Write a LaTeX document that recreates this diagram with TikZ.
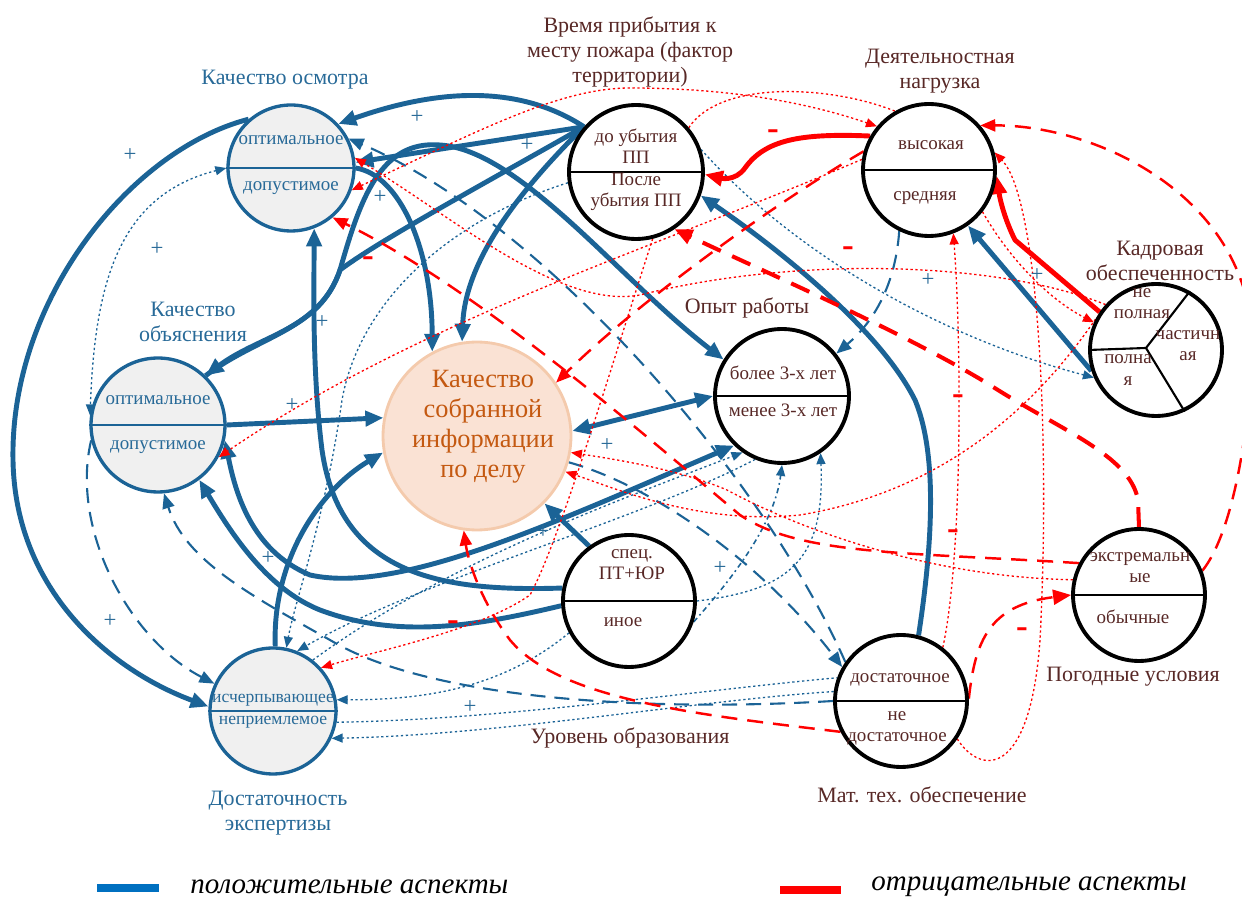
\documentclass[tikz,border=0pt]{standalone}
\usepackage{fontspec}
\setmainfont{Liberation Serif}
\usetikzlibrary{arrows.meta,backgrounds}
\definecolor{bl}{RGB}{27,99,150}
\definecolor{tbl}{RGB}{40,106,152}
\definecolor{br}{RGB}{88,40,38}
\definecolor{rd}{RGB}{255,0,0}
\definecolor{gf}{RGB}{240,240,240}
\definecolor{pf}{RGB}{250,226,212}
\definecolor{pb}{RGB}{244,202,172}
\definecolor{ptx}{RGB}{196,89,17}
\definecolor{lgb}{RGB}{0,112,192}
\tikzset{
  bigtri/.tip={Triangle[length=0.36cm,width=0.30cm]},
  midtri/.tip={Triangle[length=0.30cm,width=0.24cm]},
  smtri/.tip={Triangle[length=0.22cm,width=0.18cm]},
  bc/.style={circle, draw=bl, line width=1.9pt, fill=gf, inner sep=0pt},
  kc/.style={circle, draw=black, line width=2.2pt, fill=white, inner sep=0pt},
  cc/.style={circle, draw=pb, line width=1.6pt, fill=pf, inner sep=0pt},
  bdiv/.style={draw=bl, line width=0.9pt},
  kdiv/.style={draw=black, line width=0.9pt},
  bth/.style={draw=bl, line width=2.8pt},
  rth/.style={draw=rd, line width=2.8pt},
  bdash/.style={draw=bl, line width=1.2pt, dash pattern=on 0.3cm off 0.18cm},
  bdot/.style={draw=bl, line width=0.75pt, dash pattern=on 1.3pt off 1.5pt},
  bdashdot/.style={draw=bl, line width=0.9pt, dash pattern=on 3pt off 2pt on 1pt off 2pt},
  rdash/.style={draw=rd, line width=1.4pt, dash pattern=on 0.32cm off 0.2cm},
  rdashk/.style={draw=rd, line width=2.3pt, dash pattern=on 0.4cm off 0.25cm},
  rdot/.style={draw=rd, line width=0.75pt, dash pattern=on 1.3pt off 1.5pt},
  nt/.style={text=br, font=\fontsize{10.8}{12}\selectfont, inner sep=0pt},
  nbt/.style={text=tbl, font=\fontsize{10.8}{12}\selectfont, inner sep=0pt},
  ttl/.style={text=br, font=\fontsize{12.5}{14}\selectfont, inner sep=0pt},
  tbt/.style={text=tbl, font=\fontsize{12.5}{14}\selectfont, inner sep=0pt},
  ctx/.style={text=ptx, font=\fontsize{15}{17}\selectfont, inner sep=0pt},
  plus/.style={text=tbl, font=\fontsize{13}{13}\selectfont, inner sep=0pt},
  minus/.style={text=rd, font=\fontsize{20}{20}\selectfont\bfseries, inner sep=0pt},
  lgt/.style={text=black, font=\fontsize{16.5}{18}\selectfont\itshape, inner sep=0pt, anchor=west},
}
\begin{document}
\begin{tikzpicture}[x=0.02cm,y=-0.02cm]
\useasboundingbox (0,0) rectangle (1242,901);
\clip (0,0) rectangle (1242,901);
% ---------- circles
\node[bc, minimum size=2.52cm] (osm) at (291,168) {};
\node[bc, minimum size=2.68cm] (obj) at (158,425) {};
\node[bc, minimum size=2.52cm] (exp) at (273,711) {};
\node[cc, minimum size=3.76cm] (cen) at (477,436) {};
\node[kc, minimum size=2.68cm] (tim) at (636,172) {};
\node[kc, minimum size=2.64cm] (load) at (929,170) {};
\node[kc, minimum size=2.64cm] (staff) at (1156,350) {};
\node[kc, minimum size=2.68cm] (opyt) at (782,396) {};
\node[kc, minimum size=2.64cm] (edu) at (629,601) {};
\node[kc, minimum size=2.64cm] (mat) at (901,701) {};
\node[kc, minimum size=2.64cm] (wea) at (1139,595) {};
% dividers
\draw[bdiv] (osm.west) -- (osm.east);
\draw[bdiv] (obj.west) -- (obj.east);
\draw[bdiv] (exp.west) -- (exp.east);
\draw[kdiv] (tim.west) -- (tim.east);
\draw[kdiv] (load.west) -- (load.east);
\draw[kdiv] (opyt.west) -- (opyt.east);
\draw[kdiv] (edu.west) -- (edu.east);
\draw[kdiv] (mat.west) -- (mat.east);
\draw[kdiv] (wea.west) -- (wea.east);
\coordinate (sc) at (1146,348);
\draw[kdiv, line width=1.2pt] (staff.180) -- (sc) -- (staff.60);
\draw[kdiv, line width=1.2pt] (sc) -- (staff.-65);
% ---------- connectors
\begin{scope}[on background layer]
% blue thick
\draw[bth, -bigtri] (tim.139) .. controls (520,85) and (440,88) .. (osm.43);
\draw[bth, -bigtri] (tim.139) -- (osm.5);
\draw[bth, -bigtri] (tim.139) .. controls (480,186) and (380,240) .. (340,270) .. controls (320,330) and (260,335) .. (obj.46);
\draw[bth, -bigtri] (obj.46) .. controls (260,335) and (320,330) .. (340,270) .. controls (360,200) and (380,140) .. (440,145) .. controls (520,150) and (620,280) .. (opyt.148);
\draw[bth, -bigtri] (tim.139) .. controls (520,190) and (465,260) .. (cen.99);
\draw[bth, -bigtri] (osm.0) .. controls (400,175) and (432,250) .. (cen.118);
\draw[bth, -bigtri] (edu.169) .. controls (440,592) and (340,575) .. (322,450) .. controls (312,370) and (314,290) .. (osm.-69);
\draw[bth, bigtri-bigtri] (obj.-13) .. controls (235,490) and (250,550) .. (310,575) .. controls (400,595) and (560,520) .. (opyt.-134);
\draw[bth, -bigtri] (edu.184) .. controls (480,625) and (400,640) .. (320,610) .. controls (270,590) and (235,540) .. (obj.-53);
\draw[bth, -bigtri] (obj.0) -- (cen.169);
\draw[bth, -bigtri] (exp.88) .. controls (272,560) and (320,490) .. (cen.190);
\draw[bth, bigtri-bigtri] (opyt.180) -- (cen.3);
\draw[bth, -bigtri] (edu.126) -- (cen.-45);
\draw[bth, -bigtri] (mat.75) .. controls (930,560) and (940,460) .. (915,400) .. controls (880,330) and (780,250) .. (tim.-20);
\draw[bth, -bigtri] (staff.198) -- (load.-55);
\draw[bth, -bigtri] (osm.131) .. controls (130,150) and (10,300) .. (13,460) .. controls (15,590) and (110,670) .. (exp.176);
% blue dashed
\draw[bdash, -midtri] (obj.193) .. controls (70,530) and (130,640) .. (exp.155);
\draw[bdash, -midtri] (mat.180) .. controls (650,712) and (430,700) .. (330,640) .. controls (250,595) and (185,560) .. (obj.-85);
\draw[bdash, -midtri] (cen.-16) .. controls (650,485) and (760,560) .. (mat.150);
\draw[bdash, -midtri] (mat.145) .. controls (760,470) and (540,220) .. (osm.27);
\draw[bdash, -midtri] (load.-116) .. controls (895,290) and (870,325) .. (opyt.38);
% blue dotted
\draw[bdot, smtri-smtri] (osm.180) .. controls (120,195) and (95,280) .. (obj.172);
\draw[bdot, -smtri] (tim.189) .. controls (450,220) and (360,300) .. (342,400) .. controls (325,520) and (295,600) .. (exp.78);
\draw[bdot, -smtri] (exp.52) .. controls (450,560) and (620,500) .. (opyt.-125);
\draw[bdot, -smtri] (opyt.-113) .. controls (640,520) and (420,580) .. (exp.68);
\draw[bdot, -smtri] (edu.0) .. controls (790,590) and (825,560) .. (opyt.-56);
\draw[bdashdot, -smtri] (edu.-18) .. controls (740,570) and (775,520) .. (opyt.-90);
\draw[bdot, -smtri] (edu.208) .. controls (500,690) and (420,700) .. (exp.10);
\draw[bdot] (exp.-10) .. controls (500,720) and (700,690) .. (mat.160);
\draw[bdot, -smtri] (mat.172) .. controls (700,700) and (500,735) .. (exp.-25);
\draw[bdot, -smtri] (tim.19) .. controls (800,260) and (950,340) .. (staff.204);
% red thick
\draw[rth, -bigtri] (load.150) .. controls (800,133) and (765,140) .. (745,168) .. controls (735,182) and (720,178) .. (tim.-2);
\draw[rth, -bigtri] (staff.146) -- (1015,240) .. controls (1005,220) and (1000,200) .. (load.-5);
% red dashed
\draw[rdashk, -bigtri] (wea.90) -- (1138,500) .. controls (1130,455) and (1060,430) .. (990,385) .. controls (900,330) and (760,270) .. (tim.-56);
\draw[rdash, -midtri] (wea.152) .. controls (900,552) and (800,555) .. (740,515) .. controls (650,440) and (480,290) .. (osm.-50);
\draw[rdash, -midtri] (load.164) .. controls (780,200) and (640,300) .. (cen.34);
\draw[rdash, -midtri] (mat.207) .. controls (700,715) and (560,700) .. (510,640) .. controls (480,600) and (468,560) .. (cen.-98);
\draw[rdash, -bigtri] (mat.2) .. controls (975,640) and (990,605) .. (wea.180);
\draw[rdash, -midtri] (wea.21) .. controls (1235,530) and (1250,420) .. (1252,350) .. controls (1255,200) and (1100,125) .. (load.41);
% red dotted
\draw[rdot, smtri-smtri] (osm.-20) .. controls (480,130) and (560,88) .. (630,88) .. controls (720,88) and (800,100) .. (load.140);
\draw[rdot] (tim.40) .. controls (720,80) and (830,85) .. (load.120);
\draw[rdot, -smtri] (mat.-34) .. controls (980,775) and (1030,780) .. (1040,640) .. controls (1050,450) and (1040,200) .. (load.15);
\draw[rdot, -smtri] (mat.52) .. controls (962,560) and (962,350) .. (load.-69);
\draw[rdot, -smtri] (load.-38) .. controls (1010,260) and (1050,300) .. (staff.156);
\draw[rdot, -smtri] (staff.138) .. controls (1000,262) and (800,255) .. (640,295) .. controls (560,310) and (450,215) .. (osm.9);
\draw[rdot, -smtri] (load.171) .. controls (650,250) and (420,320) .. (obj.-28);
\draw[rdot, -smtri] (tim.-76) .. controls (610,370) and (560,540) .. (530,595) .. controls (480,630) and (380,650) .. (exp.42);
\draw[rdot, -smtri] (wea.167) .. controls (950,578) and (820,540) .. (727,490) .. controls (680,470) and (620,460) .. (cen.-10);
\draw[rdot, -smtri] (staff.153) .. controls (1040,400) and (950,490) .. (800,515) .. controls (700,525) and (620,490) .. (cen.-22);
\end{scope}
% ---------- texts in circles
\node[nbt] (osm1) at (291,140) {оптимальное};
\node[nbt] (osm2) at (291,188) {допустимое};
\node[nbt] (obj1) at (158,400) {оптимальное};
\node[nbt] (obj2) at (158,447) {допустимое};
\node[nbt, font=\fontsize{10}{11}\selectfont] (exp1) at (273,700) {исчерпывающее};
\node[nbt, font=\fontsize{10}{11}\selectfont] (exp2) at (273,722) {неприемлемое};
\node[ctx, align=center] (cen1) at (483,427) {Качество\\собранной\\информации\\по делу};
\node[nt, align=center] (tim1) at (636,146) {до убытия\\ПП};
\node[nt, align=center] (tim2) at (636,192) {После\\убытия ПП};
\node[nt] (load1) at (931,145) {высокая};
\node[nt] (load2) at (925,198) {средняя};
\node[nt, align=center] (st1) at (1142,304) {не\\полная};
\node[nt, align=center] (st2) at (1188,346) {частичн\\ая};
\node[nt, align=center] (st3) at (1128,370) {полна\\я};
\node[nt] (op1) at (783,373) {более 3-х лет};
\node[nt] (op2) at (783,410) {менее 3-х лет};
\node[nt, align=center] (ed1) at (632,565) {спец.\\ПТ+ЮР};
\node[nt] (ed2) at (623,622) {иное};
\node[nt] (mat1) at (900,680) {достаточное};
\node[nt, align=center] (mat2) at (897,728) {не\\достаточное};
\node[nt, align=center] (wea1) at (1140,568) {экстремальн\\ые};
\node[nt] (wea2) at (1133,617) {обычные};
% ---------- titles
\node[tbt] (ttosm) at (285,80) {Качество осмотра};
\node[tbt, align=center] (ttobj) at (193,322) {Качество\\объяснения};
\node[tbt, align=center] (ttexp) at (278,813) {Достаточность\\экспертизы};
\node[ttl, align=center] (tttim) at (630,52) {Время прибытия к\\месту пожара (фактор\\территории)};
\node[ttl, align=center] (ttload) at (940,71) {Деятельностная\\нагрузка};
\node[ttl, align=center] (ttstaff) at (1160,261) {Кадровая\\обеспеченность};
\node[ttl] (ttop) at (747,308) {Опыт работы};
\node[ttl] (tted) at (630,738) {Уровень образования};
\node[ttl] (ttmat) at (922,795) {Мат. тех. обеспечение};
\node[ttl] (ttwea) at (1133,677) {Погодные условия};
% ---------- signs
\foreach \x/\y [count=\i] in {130/155,157/249,417/117,527/145,380/197,322/322,292/405,607/445,543/532,720/568,928/280,1037/275,110/621,470/707,268/558}
  \node[plus] (p\i) at (\x,\y) {+};
\foreach \x/\y [count=\i] in {773/135,368/262,848/252,958/400,453/626,953/535,1022/633}
  \node[minus] (m\i) at (\x,\y) {-};
% ---------- legend
\fill[lgb] (97,884) rectangle (159,892);
\node[lgt] (lg1) at (190,887) {положительные аспекты};
\fill[rd] (780,886) rectangle (841,894);
\node[lgt] (lg2) at (871,887) {отрицательные аспекты};
\end{tikzpicture}
\end{document}
